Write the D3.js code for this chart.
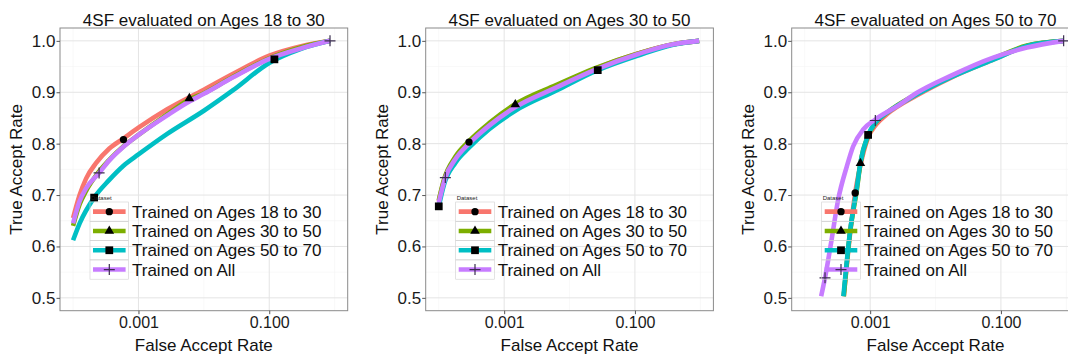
<!DOCTYPE html>
<html>
  <head>
    <title>4SF evaluated on age groups</title>
    <style>
      body { margin: 0; background: #fff; }
      text { font-family: "Liberation Sans", Arial, sans-serif; }
    </style>
  </head>
  <body>
    <script src="https://d3js.org/d3.v7.min.js"></script>
    <script>

var width = 1068,
    height = 356;

// series shared by all three panels
var seriesNames = ["Trained on Ages 18 to 30", "Trained on Ages 30 to 50",
                   "Trained on Ages 50 to 70", "Trained on All"];
var seriesColors = ["#F8766D", "#7CAE00", "#00BFC4", "#C77CFF"];
var seriesShapes = ["circle", "triangle", "square", "plus"];

var panelTitles = ["4SF evaluated on Ages 18 to 30",
                   "4SF evaluated on Ages 30 to 50",
                   "4SF evaluated on Ages 50 to 70"];

var yTicks = [0.5, 0.6, 0.7, 0.8, 0.9, 1.0];
var yMinor = [0.55, 0.65, 0.75, 0.85, 0.95];
var xTicks = [0.001, 0.1];
var xMinor = [0.0001, 0.01, 1];

// [FAR, TAR]
// panel 1 : evaluated on 18 to 30
var p1Red = [[1e-4,0.655],[1.26e-4,0.70],[1.58e-4,0.732],[2.24e-4,0.762],[3.55e-4,0.79],[5.9e-4,0.81],
             [1e-3,0.831],[2.75e-3,0.867],[1e-2,0.905],[0.028,0.936],[0.1,0.971],[0.32,0.99],[0.85,1.0]];
var p1Green = [[1e-4,0.64],[1.26e-4,0.682],[1.58e-4,0.708],[2.24e-4,0.738],[3.55e-4,0.768],[5.9e-4,0.795],
               [1e-3,0.817],[2.75e-3,0.857],[6e-3,0.886],[1e-2,0.898],[0.028,0.93],[0.1,0.966],[0.32,0.988],[0.85,1.0]];
var p1Cyan = [[1e-4,0.612],[1.26e-4,0.645],[2.1e-4,0.695],[3.55e-4,0.729],[5.9e-4,0.757],[1e-3,0.779],
              [2.75e-3,0.819],[1e-2,0.864],[0.028,0.904],[0.1,0.957],[0.3,0.984],[0.85,1.0]];
var p1Purple = [[1e-4,0.645],[1.26e-4,0.688],[1.58e-4,0.713],[2.5e-4,0.743],[3.55e-4,0.767],[5.9e-4,0.794],
                [1e-3,0.817],[2.75e-3,0.855],[6e-3,0.882],[1e-2,0.897],[0.028,0.929],[0.1,0.965],[0.32,0.986],[0.85,1.0]];
// [series, FAR, TAR]
var p1Marks = [[0,5.9e-4,0.808],[1,6e-3,0.888],[2,2.1e-4,0.695],[2,0.12,0.964],[3,2.5e-4,0.743],[3,0.85,1.0]];

// panel 2 : evaluated on 30 to 50
var p2Red = [[1e-4,0.688],[1.2e-4,0.728],[1.8e-4,0.772],[2.9e-4,0.803],[5.9e-4,0.838],[1.48e-3,0.875],
             [6.2e-3,0.912],[0.026,0.947],[0.115,0.976],[0.37,0.993],[0.96,1.0]];
var p2Green = [[1e-4,0.69],[1.2e-4,0.73],[1.8e-4,0.775],[2.9e-4,0.805],[5.9e-4,0.84],[1.48e-3,0.877],
               [6.2e-3,0.914],[0.026,0.948],[0.115,0.976],[0.37,0.993],[0.96,1.0]];
var p2Cyan = [[1e-4,0.678],[1.2e-4,0.72],[1.8e-4,0.763],[2.9e-4,0.792],[5.9e-4,0.828],[1.48e-3,0.864],
              [6.2e-3,0.903],[0.027,0.943],[0.115,0.972],[0.37,0.992],[0.96,1.0]];
var p2Purple = [[1e-4,0.685],[1.26e-4,0.734],[1.8e-4,0.77],[2.9e-4,0.8],[5.9e-4,0.835],[1.48e-3,0.871],
                [6.2e-3,0.909],[0.026,0.945],[0.115,0.975],[0.37,0.993],[0.96,1.0]];
var p2Marks = [[0,2.9e-4,0.803],[1,1.48e-3,0.876],[2,1.0e-4,0.678],[2,0.027,0.943],[3,1.26e-4,0.734]];

// panel 3 : evaluated on 50 to 70
var p3Red = [[3.95e-4,0.503],[4.9e-4,0.622],[5.9e-4,0.704],[7.1e-4,0.758],[9.3e-4,0.812],[1.25e-3,0.838],
             [1.8e-3,0.857],[5.2e-3,0.894],[0.017,0.928],[0.078,0.964],[0.25,0.99],[0.91,1.0]];
var p3Green = [[3.95e-4,0.503],[4.9e-4,0.625],[6.3e-4,0.713],[7.1e-4,0.762],[9.3e-4,0.815],[1.2e-3,0.84],
               [1.8e-3,0.86],[5.2e-3,0.897],[0.017,0.93],[0.078,0.966],[0.25,0.991],[0.91,1.0]];
var p3Cyan = [[3.9e-4,0.503],[4.9e-4,0.627],[6.3e-4,0.717],[7.1e-4,0.763],[9.3e-4,0.817],[1.2e-3,0.841],
              [1.8e-3,0.86],[5.2e-3,0.896],[0.017,0.929],[0.078,0.964],[0.25,0.99],[0.91,1.0]];
var p3Purple = [[1.78e-4,0.503],[2.04e-4,0.539],[2.57e-4,0.613],[3.24e-4,0.691],[4.4e-4,0.756],[5.5e-4,0.795],
                [7.9e-4,0.828],[1.2e-3,0.847],[2.6e-3,0.873],[5.2e-3,0.899],[0.017,0.932],[0.078,0.968],[0.25,0.987],[0.91,1.0]];
var p3Marks = [[0,5.9e-4,0.704],[1,7.1e-4,0.762],[2,9.3e-4,0.817],[3,1.2e-3,0.845],[3,2.04e-4,0.539],[3,0.91,1.0]];

var panels = [
  { title: panelTitles[0], left: 60,    curves: [p1Red, p1Green, p1Cyan, p1Purple], marks: p1Marks },
  { title: panelTitles[1], left: 425.7, curves: [p2Red, p2Green, p2Cyan, p2Purple], marks: p2Marks },
  { title: panelTitles[2], left: 791.7, curves: [p3Red, p3Green, p3Cyan, p3Purple], marks: p3Marks }
];

var panelTop = 28,
    pw = 287.7,
    ph = 282.7;

var svg = d3.select("body").append("svg")
    .attr("width", width)
    .attr("height", height);

// marker drawing, black like ggplot shapes 16/17/15/3
function drawMark(sel, shape) {
  if (shape === "plus") {
    sel.append("path")
      .attr("d", "M-5.5,0H5.5M0,-5.5V5.5")
      .attr("stroke", "#3b2d4f")
      .attr("stroke-width", 1.2)
      .attr("fill", "none");
  } else {
    var sym = shape === "circle" ? d3.symbolCircle
            : shape === "triangle" ? d3.symbolTriangle : d3.symbolSquare;
    var size = shape === "circle" ? 42 : shape === "triangle" ? 40 : 60;
    sel.append("path")
      .attr("d", d3.symbol().type(sym).size(size)())
      .attr("fill", "#000");
  }
}

panels.forEach(function (p) {
  var x = d3.scaleLog().domain([Math.pow(10, -4.2), Math.pow(10, 0.2)]).range([0, pw]);
  var y = d3.scaleLinear().domain([0.475, 1.025]).range([ph, 0]);

  var g = svg.append("g").attr("transform", "translate(" + p.left + "," + panelTop + ")");

  // grid
  g.selectAll(".hmin").data(yMinor).enter().append("line")
    .attr("x1", 0).attr("x2", pw)
    .attr("y1", y).attr("y2", y)
    .attr("stroke", "#f4f4f4").attr("stroke-width", 0.6);
  g.selectAll(".vmin").data(xMinor).enter().append("line")
    .attr("x1", x).attr("x2", x)
    .attr("y1", 0).attr("y2", ph)
    .attr("stroke", "#f4f4f4").attr("stroke-width", 0.6);
  g.selectAll(".hmaj").data(yTicks).enter().append("line")
    .attr("x1", 0).attr("x2", pw)
    .attr("y1", y).attr("y2", y)
    .attr("stroke", "#e4e4e4").attr("stroke-width", 1);
  g.selectAll(".vmaj").data(xTicks).enter().append("line")
    .attr("x1", x).attr("x2", x)
    .attr("y1", 0).attr("y2", ph)
    .attr("stroke", "#e4e4e4").attr("stroke-width", 1);

  var line = d3.line()
    .x(function (d) { return x(d[0]); })
    .y(function (d) { return y(d[1]); })
    .curve(d3.curveMonotoneX);

  p.curves.forEach(function (c, i) {
    g.append("path")
      .datum(c)
      .attr("d", line)
      .attr("fill", "none")
      .attr("stroke", seriesColors[i])
      .attr("stroke-width", 4.6)
      .attr("stroke-linejoin", "round");
  });

  p.marks.forEach(function (m) {
    var mg = g.append("g").attr("transform", "translate(" + x(m[1]) + "," + y(m[2]) + ")");
    drawMark(mg, seriesShapes[m[0]]);
  });

  // legend inside the panel
  var keyW = 38.6, keyH = 19.3, lx = 30, ly = 174;
  var lg = g.append("g").attr("transform", "translate(" + lx + "," + ly + ")");
  lg.append("text")
    .attr("x", 1).attr("y", -2.5)
    .attr("font-size", 6)
    .attr("fill", "#222")
    .text("Dataset");
  seriesNames.forEach(function (name, i) {
    var row = lg.append("g").attr("transform", "translate(0," + (i * keyH) + ")");
    row.append("rect")
      .attr("width", keyW).attr("height", keyH)
      .attr("fill", "none")
      .attr("stroke", "#d0d0d0").attr("stroke-width", 0.6);
    row.append("line")
      .attr("x1", 3).attr("x2", keyW - 3)
      .attr("y1", keyH / 2).attr("y2", keyH / 2)
      .attr("stroke", seriesColors[i])
      .attr("stroke-width", 4.6);
    var mg = row.append("g").attr("transform", "translate(" + (keyW / 2) + "," + (keyH / 2) + ")");
    drawMark(mg, seriesShapes[i]);
    row.append("text")
      .attr("x", keyW + 3.4)
      .attr("y", keyH / 2)
      .attr("dy", "0.36em")
      .attr("font-size", 17)
      .attr("fill", "#111")
      .text(name);
  });

  // panel border
  g.append("rect")
    .attr("width", pw).attr("height", ph)
    .attr("fill", "none")
    .attr("stroke", "#8a8a8a").attr("stroke-width", 1);

  // axes
  var ya = g.append("g")
    .call(d3.axisLeft(y).tickValues(yTicks).tickFormat(d3.format(".1f")).tickSize(3.5).tickPadding(1));
  var xa = g.append("g")
    .attr("transform", "translate(0," + ph + ")")
    .call(d3.axisBottom(x).tickValues(xTicks).tickFormat(d3.format(".3f")).tickSize(3.5).tickPadding(2));
  [ya, xa].forEach(function (a) {
    a.select(".domain").remove();
    a.selectAll(".tick line").attr("stroke", "#555");
    a.selectAll("text")
      .attr("font-family", "\"Liberation Sans\", Arial, sans-serif")
      .attr("fill", "#1a1a1a");
  });
  ya.selectAll("text").attr("font-size", 17);
  xa.selectAll("text").attr("font-size", 16);

  // titles
  g.append("text")
    .attr("x", pw / 2).attr("y", -2)
    .attr("text-anchor", "middle")
    .attr("font-size", 17)
    .attr("fill", "#111")
    .text(p.title);
  g.append("text")
    .attr("x", pw / 2).attr("y", ph + 40.3)
    .attr("text-anchor", "middle")
    .attr("font-size", 17)
    .attr("fill", "#111")
    .text("False Accept Rate");
  g.append("text")
    .attr("transform", "translate(-38," + (ph / 2) + ") rotate(-90)")
    .attr("text-anchor", "middle")
    .attr("font-size", 17)
    .attr("fill", "#111")
    .text("True Accept Rate");
});

    </script>
  </body>
</html>
